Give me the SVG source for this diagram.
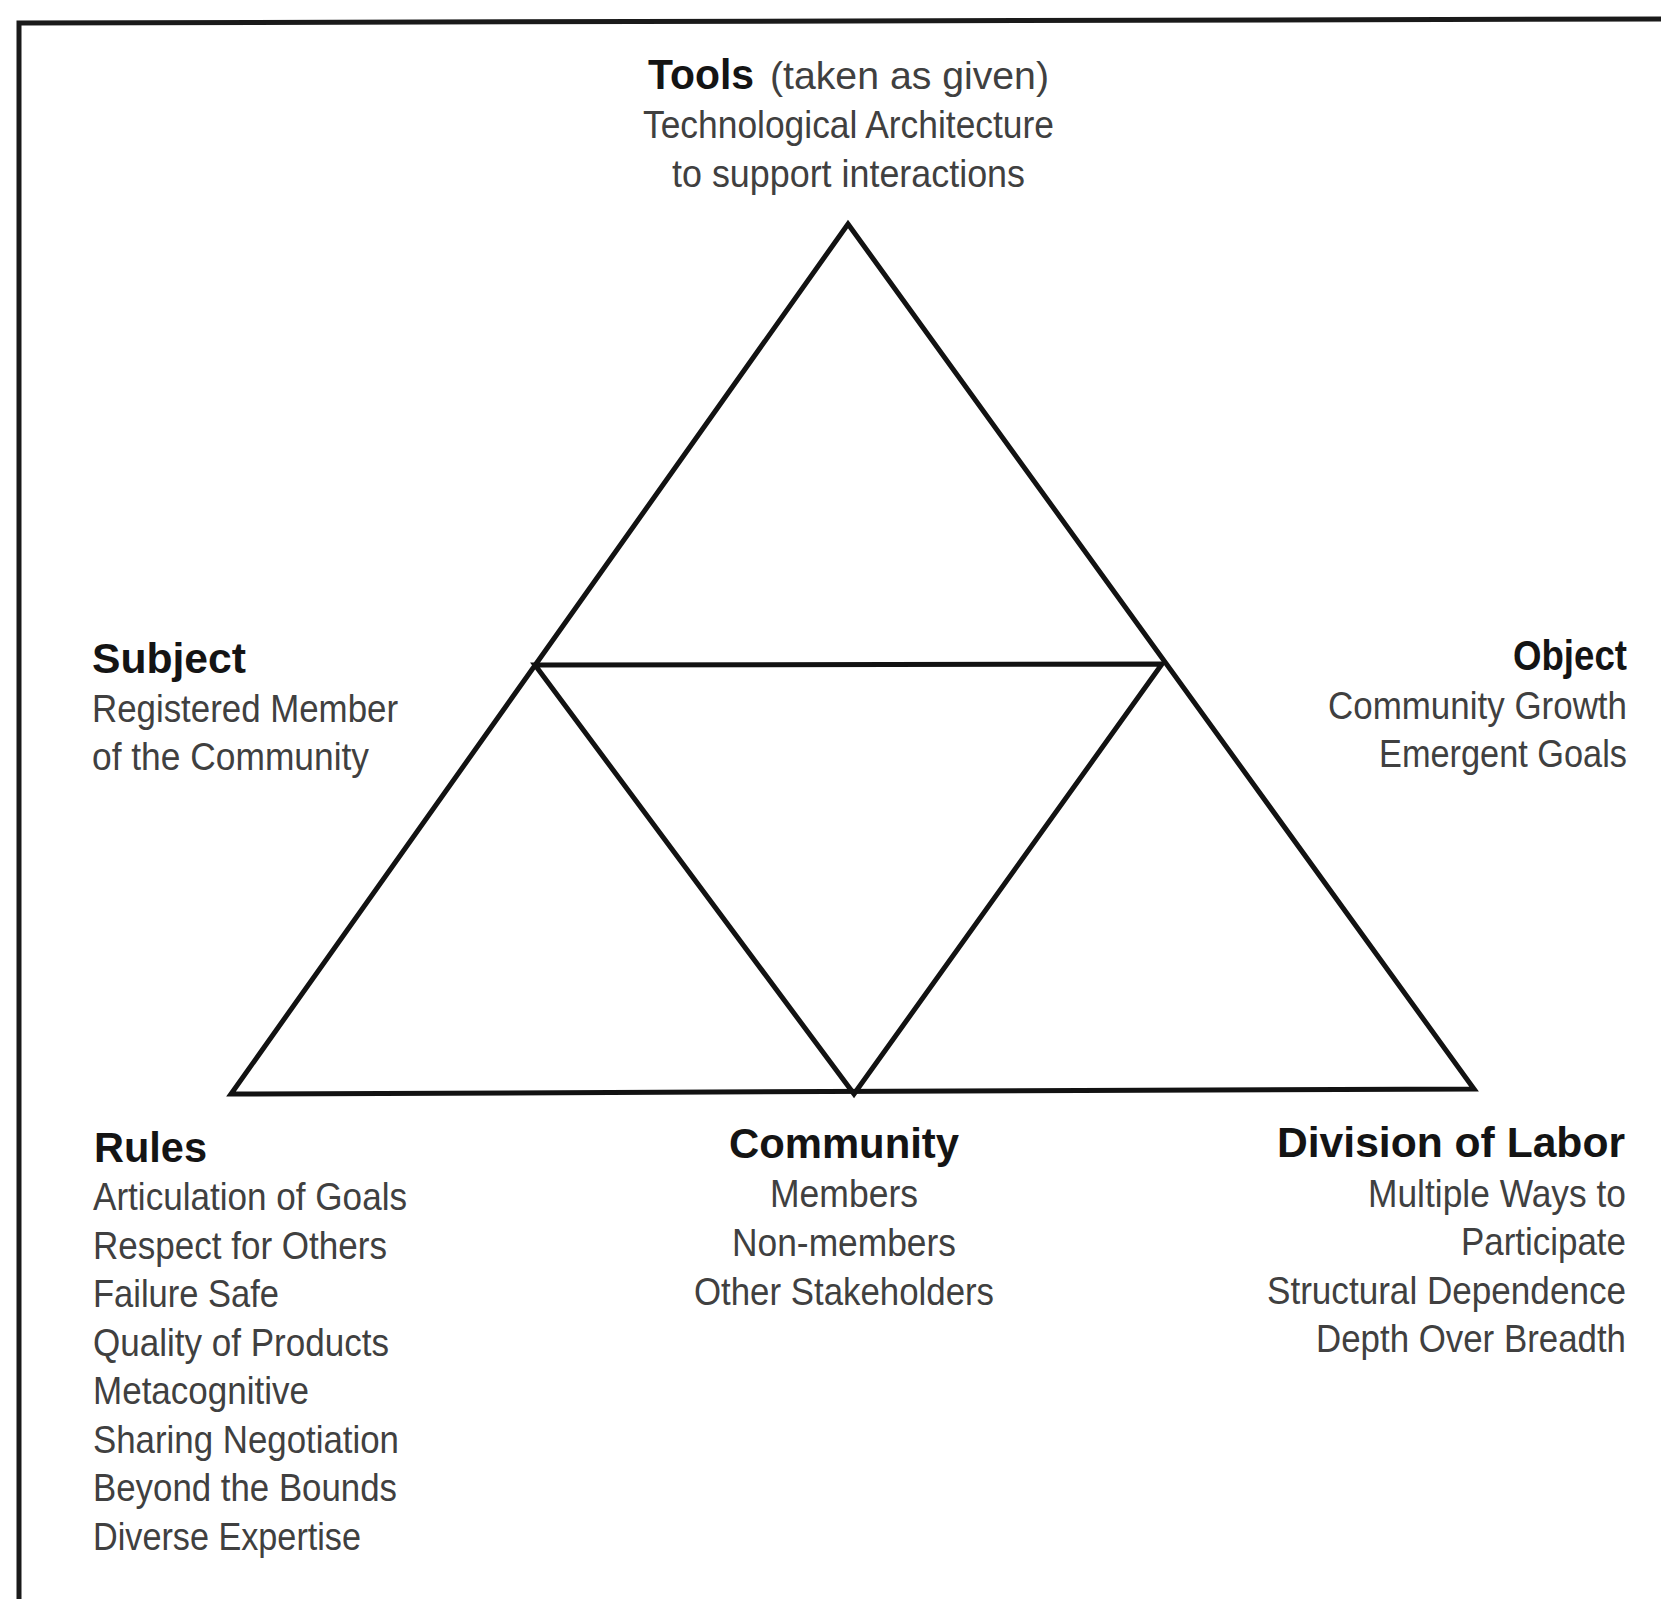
<svg xmlns="http://www.w3.org/2000/svg" width="1661" height="1599" viewBox="0 0 1661 1599">
<style>
.h{font-family:"Liberation Sans",Arial,sans-serif;font-weight:bold;font-size:42px;fill:#141414}
.b{font-family:"Liberation Sans",Arial,sans-serif;font-size:39px;fill:#404040}
.e{text-anchor:end}
.m{text-anchor:middle}
.ln{fill:none;stroke:#121212;stroke-width:5;stroke-linejoin:miter}
</style>
<rect width="1661" height="1599" fill="#ffffff"/>
<path d="M19,1599 V23 L1661,19" fill="none" stroke="#1a1a1a" stroke-width="5"/>
<g id="connectors">
<path class="ln" d="M848,224 L1474,1089 L231,1094 Z"/>
<path class="ln" d="M535,665 L1162,664 L854,1094 Z"/>
</g>
<g id="tools">
<text class="h" x="648" y="89" textLength="106" lengthAdjust="spacingAndGlyphs">Tools</text>
<text class="b" x="770" y="89" textLength="279" lengthAdjust="spacingAndGlyphs">(taken as given)</text>
<text class="b" x="643" y="138" textLength="411" lengthAdjust="spacingAndGlyphs">Technological Architecture</text>
<text class="b" x="672" y="187" textLength="353" lengthAdjust="spacingAndGlyphs">to support interactions</text>
</g>
<g id="subject">
<text class="h" x="92" y="673" textLength="154" lengthAdjust="spacingAndGlyphs">Subject</text>
<text class="b" x="92" y="722" textLength="306" lengthAdjust="spacingAndGlyphs">Registered Member</text>
<text class="b" x="92" y="770" textLength="277" lengthAdjust="spacingAndGlyphs">of the Community</text>
</g>
<g id="object">
<text class="h e" x="1627" y="670" textLength="114" lengthAdjust="spacingAndGlyphs">Object</text>
<text class="b e" x="1627" y="719" textLength="299" lengthAdjust="spacingAndGlyphs">Community Growth</text>
<text class="b e" x="1627" y="767" textLength="248" lengthAdjust="spacingAndGlyphs">Emergent Goals</text>
</g>
<g id="rules">
<text class="h" x="94" y="1162" textLength="113" lengthAdjust="spacingAndGlyphs">Rules</text>
<text class="b" x="93" y="1210" textLength="314" lengthAdjust="spacingAndGlyphs">Articulation of Goals</text>
<text class="b" x="93" y="1259" textLength="294" lengthAdjust="spacingAndGlyphs">Respect for Others</text>
<text class="b" x="93" y="1307" textLength="186" lengthAdjust="spacingAndGlyphs">Failure Safe</text>
<text class="b" x="93" y="1356" textLength="296" lengthAdjust="spacingAndGlyphs">Quality of Products</text>
<text class="b" x="93" y="1404" textLength="216" lengthAdjust="spacingAndGlyphs">Metacognitive</text>
<text class="b" x="93" y="1453" textLength="306" lengthAdjust="spacingAndGlyphs">Sharing Negotiation</text>
<text class="b" x="93" y="1501" textLength="304" lengthAdjust="spacingAndGlyphs">Beyond the Bounds</text>
<text class="b" x="93" y="1550" textLength="268" lengthAdjust="spacingAndGlyphs">Diverse Expertise</text>
</g>
<g id="community">
<text class="h m" x="844" y="1158" textLength="230" lengthAdjust="spacingAndGlyphs">Community</text>
<text class="b m" x="844" y="1207" textLength="148" lengthAdjust="spacingAndGlyphs">Members</text>
<text class="b m" x="844" y="1256" textLength="224" lengthAdjust="spacingAndGlyphs">Non-members</text>
<text class="b m" x="844" y="1305" textLength="300" lengthAdjust="spacingAndGlyphs">Other Stakeholders</text>
</g>
<g id="division">
<text class="h e" x="1625" y="1157" textLength="348" lengthAdjust="spacingAndGlyphs">Division of Labor</text>
<text class="b e" x="1626" y="1207" textLength="258" lengthAdjust="spacingAndGlyphs">Multiple Ways to</text>
<text class="b e" x="1626" y="1255" textLength="165" lengthAdjust="spacingAndGlyphs">Participate</text>
<text class="b e" x="1626" y="1304" textLength="359" lengthAdjust="spacingAndGlyphs">Structural Dependence</text>
<text class="b e" x="1626" y="1352" textLength="310" lengthAdjust="spacingAndGlyphs">Depth Over Breadth</text>
</g>
</svg>
